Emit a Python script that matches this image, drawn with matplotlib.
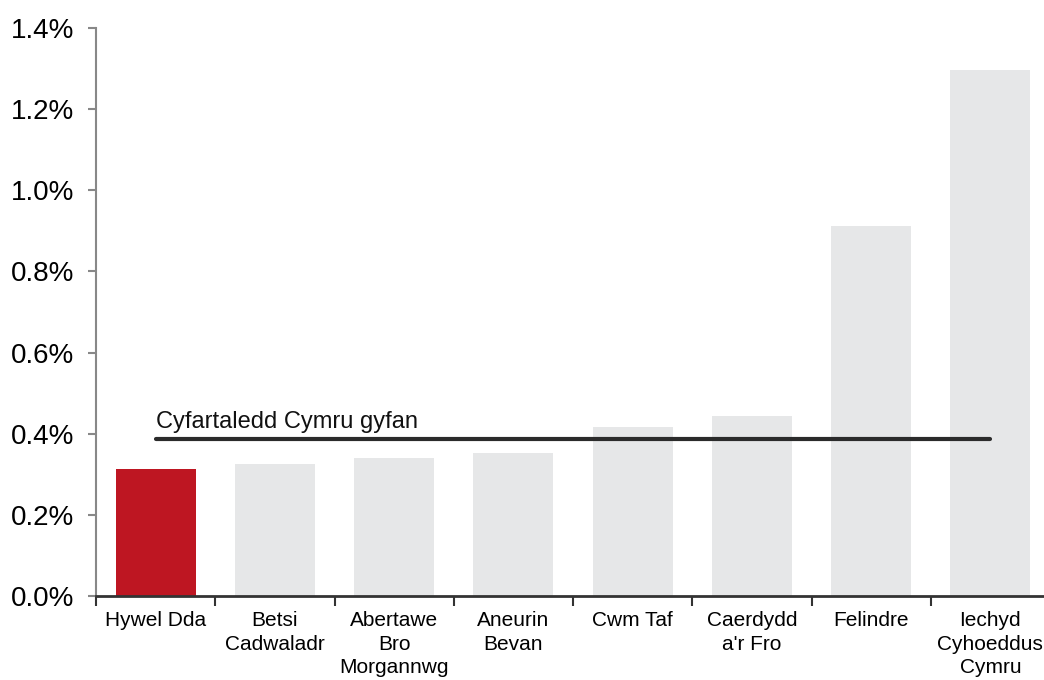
import numpy as np
import matplotlib
matplotlib.use("Agg")
import matplotlib.pyplot as plt
from matplotlib.ticker import FuncFormatter, FixedLocator

plt.rcParams['font.family'] = ['Liberation Sans', 'DejaVu Sans']

# data
boards = ["Hywel Dda", "Betsi\nCadwaladr", "Abertawe\nBro\nMorgannwg", "Aneurin\nBevan",
          "Cwm Taf", "Caerdydd\na'r Fro", "Felindre", "Iechyd\nCyhoeddus\nCymru"]
values = [0.313, 0.325, 0.340, 0.352, 0.417, 0.444, 0.912, 1.297]
wales_avg = 0.387
avg_label = "Cyfartaledd Cymru gyfan"

red = "#BE1622"
grey = "#E6E7E8"

fig = plt.figure(figsize=(10.44, 6.8), dpi=100)
ax = fig.add_axes([96 / 1044, 84 / 680, 954 / 1044, 568 / 680])

x = np.arange(len(boards))
colors = [red] + [grey] * (len(boards) - 1)
ax.bar(x, values, width=0.67, color=colors, zorder=2)

# all-Wales average line
ax.plot([x[0], x[-1]], [wales_avg, wales_avg], color="#2b2b2b", lw=3,
        solid_capstyle="round", zorder=3)
ax.text(x[0], wales_avg + 0.015, avg_label, fontsize=17, ha="left", va="bottom",
        color="#111111")

ax.set_xlim(-0.5, len(boards) - 0.5)
ax.set_ylim(0, 1.4)
ax.set_yticks(np.arange(0, 1.41, 0.2))
ax.yaxis.set_major_formatter(FuncFormatter(lambda v, p: f"{v:.1f}%"))
ax.tick_params(axis="y", labelsize=20, length=6, width=1.5, color="#888888", pad=10)

ax.set_xticks(x)
ax.set_xticklabels(boards, fontsize=15, linespacing=1.3)
ax.tick_params(axis="x", which="major", length=0, pad=11)
ax.xaxis.set_minor_locator(FixedLocator(np.arange(-0.5, len(boards), 1.0)))
ax.tick_params(axis="x", which="minor", length=7, width=1.5, color="#333333", direction="out")

for s in ["top", "right"]:
    ax.spines[s].set_visible(False)
ax.spines["left"].set_color("#888888")
ax.spines["left"].set_linewidth(1.5)
ax.spines["bottom"].set_color("#333333")
ax.spines["bottom"].set_linewidth(2)

fig.savefig("out.png", dpi=100)
